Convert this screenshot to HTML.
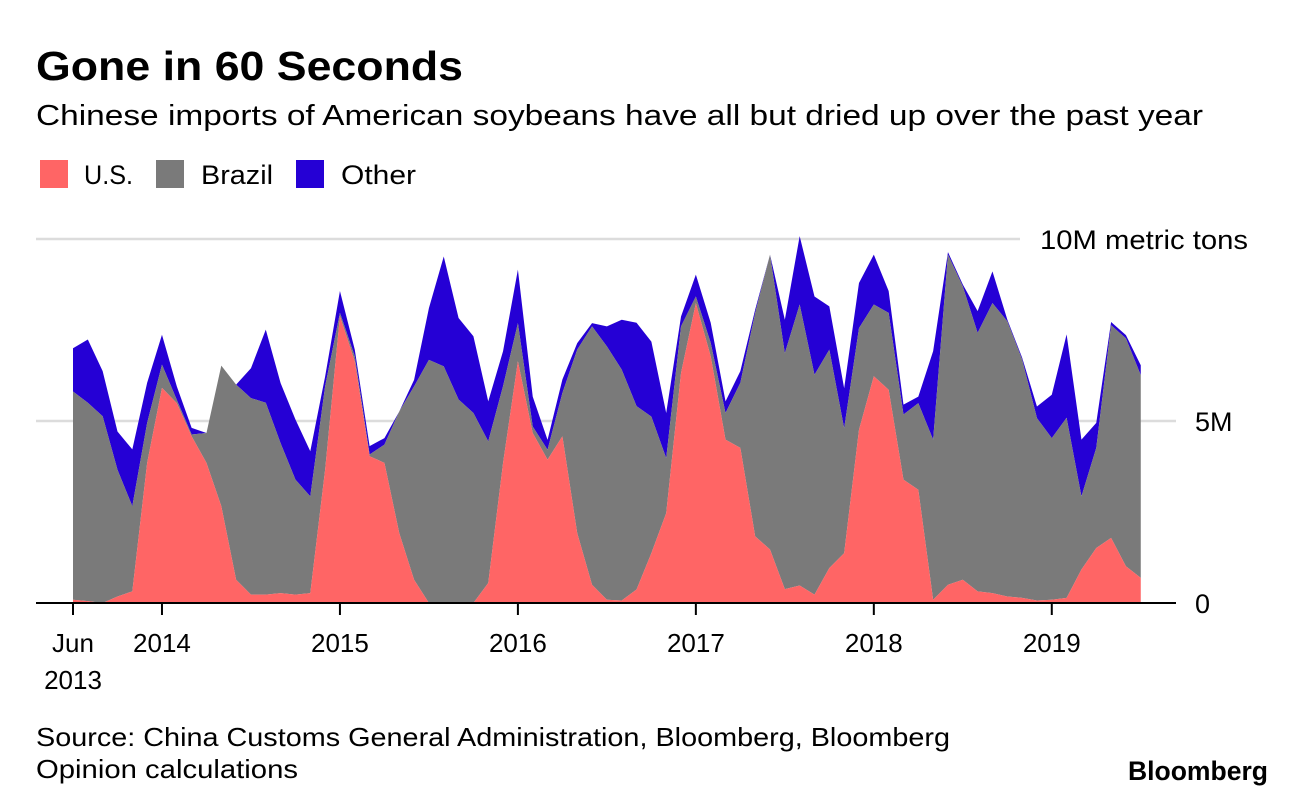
<!DOCTYPE html>
<html><head><meta charset="utf-8">
<style>
body{margin:0;background:#fff;width:1296px;height:802px;overflow:hidden;font-family:"Liberation Sans",Arial,sans-serif;}
svg{position:absolute;left:0;top:0}
</style></head>
<body>
<svg id="chart" width="1296" height="802">
  <text x="36" y="80" font-size="41" font-weight="bold" fill="#000" textLength="427" lengthAdjust="spacingAndGlyphs">Gone in 60 Seconds</text>
  <text x="36" y="125" font-size="29" fill="#000" textLength="1167" lengthAdjust="spacingAndGlyphs">Chinese imports of American soybeans have all but dried up over the past year</text>
  <g>
    <rect x="40" y="160" width="28" height="28" fill="#ff6565"/>
    <text x="84" y="184" font-size="27" textLength="49" lengthAdjust="spacingAndGlyphs">U.S.</text>
    <rect x="156" y="160" width="28" height="28" fill="#7a7a7a"/>
    <text x="201" y="184" font-size="27" textLength="72" lengthAdjust="spacingAndGlyphs">Brazil</text>
    <rect x="296" y="160" width="28" height="28" fill="#2500d5"/>
    <text x="341" y="184" font-size="27" textLength="75" lengthAdjust="spacingAndGlyphs">Other</text>
  </g>
  <g id="grid"></g>
  <g id="areas"></g>
  <g id="axis"></g>
  <text x="36" y="746" font-size="26" textLength="914" lengthAdjust="spacingAndGlyphs">Source: China Customs General Administration, Bloomberg, Bloomberg</text>
  <text x="36" y="778" font-size="26" textLength="262" lengthAdjust="spacingAndGlyphs">Opinion calculations</text>
  <text x="1128" y="780" font-size="27" font-weight="bold" textLength="140" lengthAdjust="spacingAndGlyphs">Bloomberg</text>
</svg>
<script>
const usValues=[0.09,0.05,0,0.18,0.32,3.85,5.91,5.49,4.58,3.85,2.66,0.64,0.23,0.23,0.27,0.23,0.27,3.66,7.88,6.64,4.03,3.85,1.92,0.64,0,0,0,0,0.55,3.85,6.64,4.67,3.94,4.58,1.92,0.5,0.09,0.07,0.37,1.37,2.47,6.32,8.24,6.78,4.49,4.26,1.83,1.47,0.38,0.48,0.23,0.96,1.37,4.76,6.23,5.86,3.39,3.11,0.09,0.5,0.64,0.32,0.27,0.18,0.14,0.07,0.09,0.14,0.92,1.51,1.79,1.01,0.69];
const brazilValues=[5.72,5.45,5.13,3.48,2.34,1.1,0.64,0.09,0.05,0.82,3.86,5.36,5.4,5.27,4.12,3.16,2.66,2.29,0.09,0.14,0.05,0.5,3.34,5.31,6.68,6.5,5.59,5.22,3.89,2.11,1.05,0.18,0.27,1.19,5.04,7.1,6.96,6.34,5.04,3.75,1.51,1.28,0.18,0.37,0.73,1.79,6.14,8.1,6.48,7.72,6.04,6.0,3.43,2.79,1.97,2.11,1.79,2.38,4.4,9.07,8.06,7.1,7.97,7.56,6.55,5.01,4.44,4.95,2.01,2.75,5.84,6.26,5.57];
const otherValues=[1.19,1.74,1.24,1.05,1.56,1.1,0.82,0.37,0.18,0,0,0,0.82,2.01,1.65,1.65,1.24,0.27,0.6,0.18,0.23,0.18,0,0.18,1.42,3.02,2.24,2.11,1.1,0.96,1.47,0.82,0.27,0.37,0.18,0.09,0.55,1.37,2.29,2.06,1.24,0.27,0.6,0.55,0.32,0.32,0.09,0,0.92,1.88,2.15,1.19,1.1,1.24,1.37,0.6,0.27,0.18,2.43,0.07,0.05,0.6,0.87,0.05,0.05,0.32,1.19,2.29,1.56,0.69,0.09,0.09,0.27];
const tickIndices=[0,6,18,30,42,54,66];
const tickLabels=["Jun","2014","2015","2016","2017","2018","2019"];
const yTicks=[0,5,10];
const yLabels=["0","5M","10M metric tons"];

const NS="http://www.w3.org/2000/svg";
const X0=73, DX=14.83, Y0=603, PY=36.4;
const xs=i=>X0+DX*i;
const ys=v=>Y0-v*PY;
function mk(tag,attrs,parent){const e=document.createElementNS(NS,tag);for(const k in attrs)e.setAttribute(k,attrs[k]);parent.appendChild(e);return e;}
const grid=document.getElementById('grid'),areas=document.getElementById('areas'),axis=document.getElementById('axis');

yTicks.forEach((t,k)=>{
  const top = t===10;
  if(t>0){
    const l=mk('line',{x1:36,x2:top?1020:1176,y1:ys(t),y2:ys(t),stroke:'#dcdcdc','stroke-width':2.5},grid);
    
    
  }
  const attrs={x:top?1040:1195,y:ys(t)+10,'font-size':27};
  if(top){attrs.textLength=208;attrs.lengthAdjust='spacingAndGlyphs';}
  const tx=mk('text',attrs,axis);
  tx.textContent=yLabels[k];
  
  
});

const n=usValues.length;
const c1=[],c2=[],c3=[];
for(let i=0;i<n;i++){c1.push(usValues[i]);c2.push(usValues[i]+brazilValues[i]);c3.push(c2[i]+otherValues[i]);}
function band(top,bot,color,name){
  let d='M'+xs(0)+','+ys(top[0]);
  for(let i=1;i<n;i++)d+='L'+xs(i)+','+ys(top[i]);
  for(let i=n-1;i>=0;i--)d+='L'+xs(i)+','+ys(bot?bot[i]:0);
  d+='Z';
  const p=mk('path',{d:d,fill:color},areas);
  
  
}
band(c3,c2,'#2500d5','area-other');
band(c2,c1,'#7a7a7a','area-brazil');
band(c1,null,'#ff6565','area-us');

const base=mk('line',{x1:36,x2:1176,y1:Y0,y2:Y0,stroke:'#000','stroke-width':2},axis);


tickIndices.forEach((ti,k)=>{
  const x=xs(ti);
  const t=mk('line',{x1:x,x2:x,y1:Y0,y2:Y0+12,stroke:'#000','stroke-width':2},axis);
  
  
  const lb=mk('text',{x:x,y:652,'font-size':26,'text-anchor':'middle'},axis);
  lb.textContent=tickLabels[k];
  
  
});
const yr=mk('text',{x:xs(0),y:689,'font-size':26,'text-anchor':'middle'},axis);
yr.textContent='2013';


</script>
</body></html>
